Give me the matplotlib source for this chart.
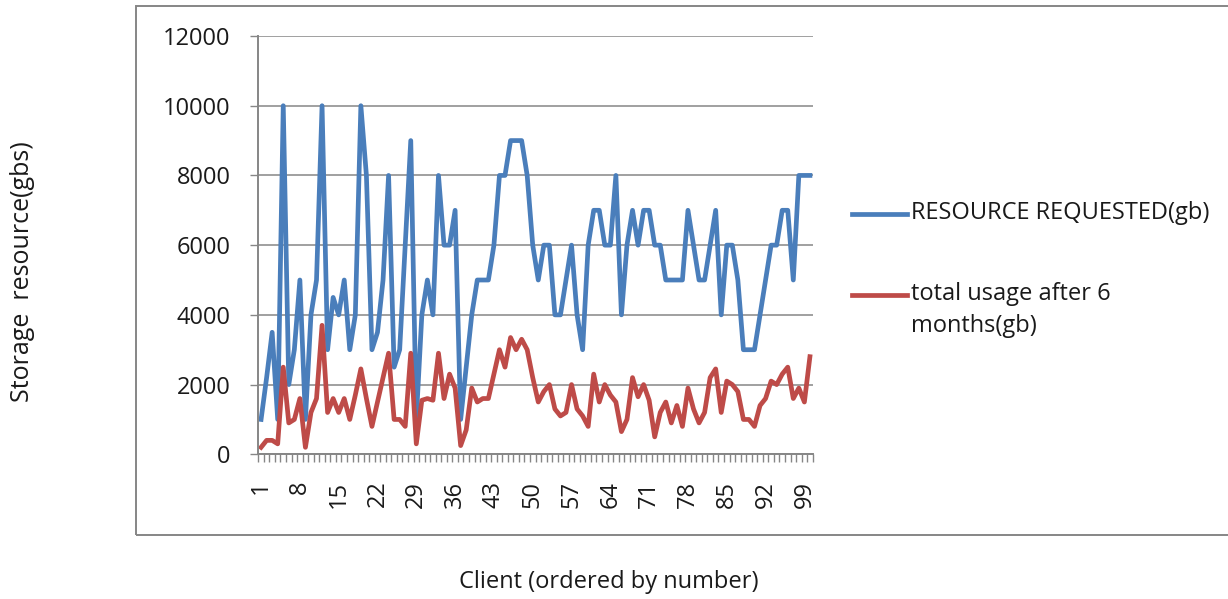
import matplotlib.pyplot as plt
from matplotlib.lines import Line2D
from matplotlib.patches import Rectangle

plt.rcParams['font.family'] = ['Open Sans', 'DejaVu Sans']

clients = list(range(1, 101))

requested = [1000, 2200, 3500, 1000, 10000, 2000, 3000, 5000, 1000, 4000,
             5000, 10000, 3000, 4500, 4000, 5000, 3000, 4000, 10000, 8000,
             3000, 3500, 5000, 8000, 2500, 3000, 6000, 9000, 1000, 4000,
             5000, 4000, 8000, 6000, 6000, 7000, 1000, 2500, 4000, 5000,
             5000, 5000, 6000, 8000, 8000, 9000, 9000, 9000, 8000, 6000,
             5000, 6000, 6000, 4000, 4000, 5000, 6000, 4000, 3000, 6000,
             7000, 7000, 6000, 6000, 8000, 4000, 6000, 7000, 6000, 7000,
             7000, 6000, 6000, 5000, 5000, 5000, 5000, 7000, 6000, 5000,
             5000, 6000, 7000, 4000, 6000, 6000, 5000, 3000, 3000, 3000,
             4000, 5000, 6000, 6000, 7000, 7000, 5000, 8000, 8000, 8000]

usage_6m = [200, 400, 400, 300, 2500, 900, 1000, 1600, 200, 1200,
            1600, 3700, 1200, 1600, 1200, 1600, 1000, 1700, 2450, 1600,
            800, 1500, 2200, 2900, 1000, 1000, 800, 2900, 300, 1550,
            1600, 1550, 2900, 1600, 2300, 1900, 250, 700, 1900, 1500,
            1600, 1600, 2300, 3000, 2500, 3350, 3000, 3300, 3000, 2200,
            1500, 1800, 2000, 1300, 1100, 1200, 2000, 1300, 1100, 800,
            2300, 1500, 2000, 1700, 1500, 650, 1000, 2200, 1650, 2000,
            1550, 500, 1200, 1500, 900, 1400, 800, 1900, 1300, 900,
            1200, 2200, 2450, 1200, 2100, 2000, 1800, 1000, 1000, 800,
            1400, 1600, 2100, 2000, 2300, 2500, 1600, 1900, 1500, 2800]

labels = ['RESOURCE REQUESTED(gb)', 'total usage after 6\nmonths(gb)']
colors = ['#4A7EBB', '#BE4B48']
grey = '#868686'
fs = 17

W, H = 1228, 599
fig = plt.figure(figsize=(W / 100, H / 100), dpi=100)
ax = fig.add_axes([258.3 / W, 1 - 454.3 / H, 554.4 / W, 418.3 / H])

# chart frame (right edge runs off the canvas)
fig.add_artist(Rectangle((136 / W, 1 - 535 / H), 1.0, (535 - 6) / H,
                         transform=fig.transFigure, fill=False,
                         edgecolor=grey, linewidth=1.4))

ax.plot(clients, requested, color=colors[0], lw=3.4, solid_joinstyle='round')
ax.plot(clients, usage_6m, color=colors[1], lw=3.4, solid_joinstyle='round')

ax.set_xlim(0.5, 100.5)
ax.set_ylim(0, 12000)
ax.set_yticks(range(0, 12001, 2000))
ax.grid(axis='y', color=grey, lw=1.1)
ax.set_axisbelow(True)

ax.set_xticks(clients[::7])
ax.set_xticklabels([str(c) for c in clients[::7]], rotation=90, fontsize=fs)
ax.set_xticks([c + 0.5 for c in range(0, 101)], minor=True)
ax.tick_params(axis='x', which='major', length=0, pad=19, colors='#1a1a1a')
ax.tick_params(axis='x', which='minor', length=6, width=1, color=grey)
ax.tick_params(axis='y', length=6, width=1, color=grey, pad=14,
               labelsize=fs, labelcolor='#1a1a1a')

for s in ['top', 'right']:
    ax.spines[s].set_visible(False)
for s in ['left', 'bottom']:
    ax.spines[s].set_color(grey)
    ax.spines[s].set_linewidth(1.4)

# legend drawn by hand so the swatch sits on the first text line
for y_px, lab, c in zip([214, 295], labels, colors):
    fig.add_artist(Line2D([852 / W, 907 / W], [1 - y_px / H] * 2,
                          transform=fig.transFigure, color=c, lw=3.4))
    fig.text(911 / W, 1 - (y_px - 13) / H, lab, fontsize=fs, va='top',
             ha='left', color='#1a1a1a', linespacing=1.45)

fig.text(23 / W, 1 - 272 / H, 'Storage  resource(gbs)', rotation=90,
         fontsize=18, ha='center', va='center', color='#1a1a1a')
fig.text(609 / W, 1 - 582 / H, 'Client (ordered by number)',
         fontsize=fs, ha='center', va='center', color='#1a1a1a')

fig.savefig('out.png', dpi=100)
